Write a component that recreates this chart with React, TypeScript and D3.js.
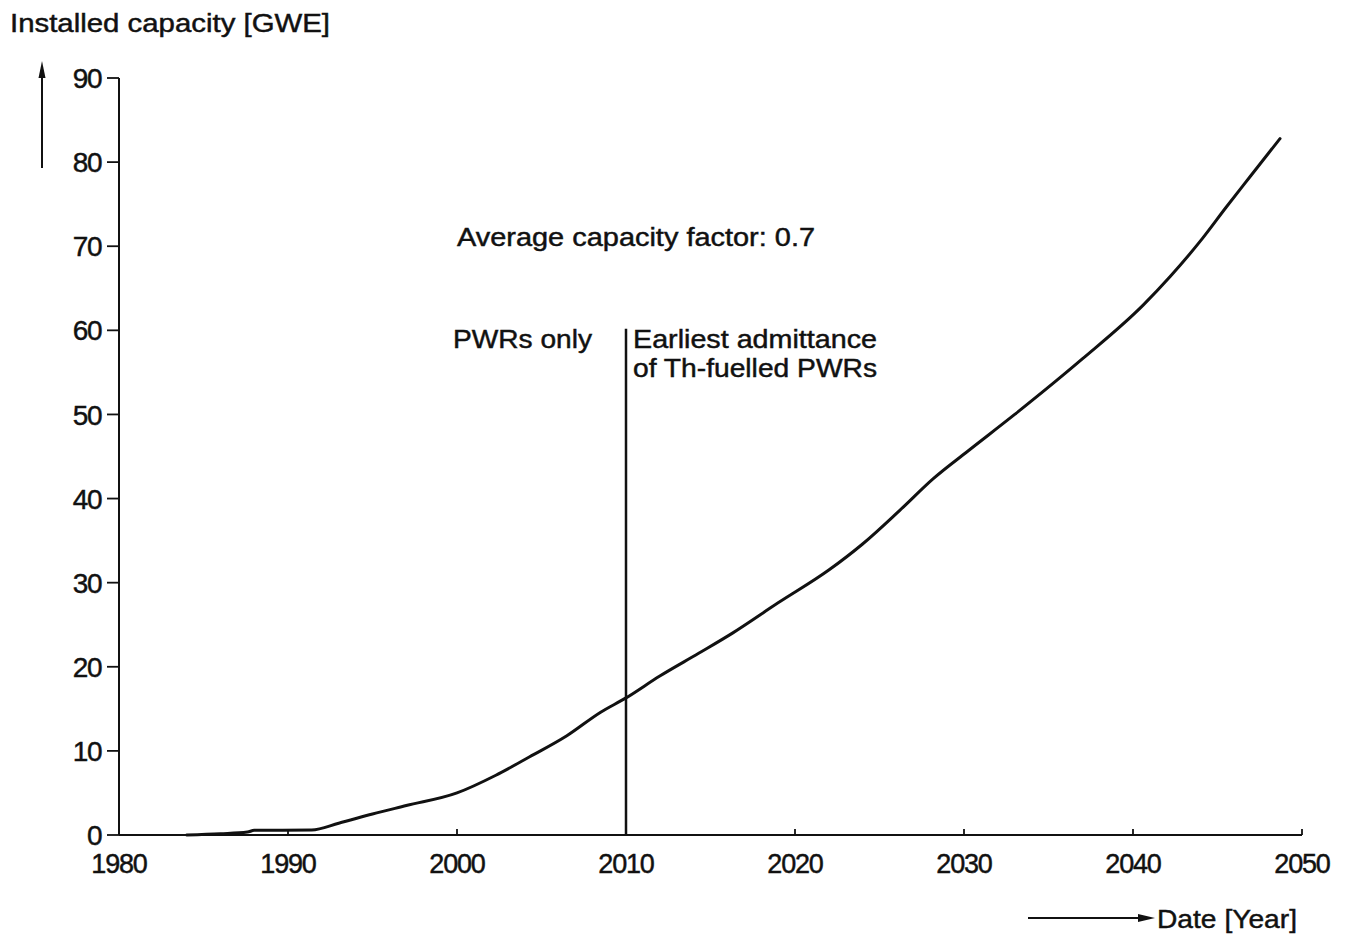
import React from "react";
import * as d3 from "d3";

const years: number[] = [1984, 1986, 1987.6, 1988, 1991.4, 1993, 1995, 1997, 2000, 2002.3, 2004.3, 2006.5, 2008.5, 2010, 2012, 2014.3, 2016.3, 2019, 2022, 2024, 2026.2, 2028.2, 2030.2, 2033, 2037, 2040.6, 2042.2, 2044.1, 2045.5, 2046.9, 2048.7];
const capacity: number[] = [0, 0.15, 0.35, 0.55, 0.6, 1.4, 2.5, 3.5, 5.0, 7.1, 9.3, 11.8, 14.6, 16.3, 18.9, 21.6, 24.0, 27.6, 31.5, 34.6, 38.6, 42.4, 45.6, 50.0, 56.6, 63.0, 66.4, 70.9, 74.6, 78.2, 82.8];
const xTicks: number[] = [1980, 1990, 2000, 2010, 2020, 2030, 2040, 2050];
const yTicks: number[] = [0, 10, 20, 30, 40, 50, 60, 70, 80, 90];
const markerYear = 2010;
const markerTop = 60.2;

const FONT = "'Liberation Sans', Arial, Helvetica, sans-serif";

export default function App() {
  const W = 1356, H = 935;
  const x = d3.scaleLinear().domain([1980, 2050]).range([119, 1302]);
  const y = d3.scaleLinear().domain([0, 90]).range([835, 78]);
  const pts = years.map((yr, i) => [yr, capacity[i]] as [number, number]);
  const line = d3.line<[number, number]>().x(d => x(d[0])).y(d => y(d[1])).curve(d3.curveMonotoneX);
  const ts = { fill: "#111", stroke: "#111", strokeWidth: 0.45 };

  return (
    <svg width={W} height={H} style={{ position: "absolute", left: 0, top: 0, background: "#fff" }} fontFamily={FONT}>
      <rect x={0} y={0} width={W} height={H} fill="#fff" />
      {/* Title */}
      <text x={10} y={32} fontSize={25} {...ts} textLength={320} lengthAdjust="spacingAndGlyphs">Installed capacity [GWE]</text>
      {/* left arrow */}
      <line x1={42} y1={168} x2={42} y2={72} stroke="#111" strokeWidth={2} />
      <path d="M38.5,78 L42,61 L45.5,78 Z" fill="#111" />

      {/* y axis */}
      <line x1={x(1980)} y1={y(90)} x2={x(1980)} y2={y(0)} stroke="#111" strokeWidth={2} />
      {yTicks.map(t => (
        <g key={"y" + t}>
          <line x1={x(1980) - 12} x2={x(1980)} y1={y(t)} y2={y(t)} stroke="#111" strokeWidth={1.8} />
          <text x={x(1980) - 18} y={y(t)} dy="0.36em" textAnchor="end" fontSize={28} {...ts} letterSpacing={-1.5}>{t}</text>
        </g>
      ))}

      {/* x axis */}
      <line x1={x(1980)} y1={y(0)} x2={x(2050)} y2={y(0)} stroke="#111" strokeWidth={2} />
      {xTicks.map(t => (
        <g key={"x" + t}>
          <line x1={x(t)} x2={x(t)} y1={y(0)} y2={y(0) - 6} stroke="#111" strokeWidth={1.8} />
          <text x={x(t)} y={873} textAnchor="middle" fontSize={27} {...ts} letterSpacing={-1.2}>{t}</text>
        </g>
      ))}

      {/* Date arrow */}
      <line x1={1028} y1={918} x2={1142} y2={918} stroke="#111" strokeWidth={2} />
      <path d="M1138,914 L1155,918 L1138,922 Z" fill="#111" />
      <text x={1157} y={928} fontSize={26} {...ts} textLength={140} lengthAdjust="spacingAndGlyphs">Date [Year]</text>

      {/* marker line */}
      <line x1={x(markerYear)} x2={x(markerYear)} y1={y(0)} y2={y(markerTop)} stroke="#111" strokeWidth={2.5} />

      {/* annotations */}
      <text x={457} y={246} fontSize={25} {...ts} textLength={358} lengthAdjust="spacingAndGlyphs">Average capacity factor: 0.7</text>
      <text x={453} y={348} fontSize={25} {...ts} textLength={139} lengthAdjust="spacingAndGlyphs">PWRs only</text>
      <text x={633} y={348} fontSize={25} {...ts} textLength={244} lengthAdjust="spacingAndGlyphs">Earliest admittance</text>
      <text x={633} y={377} fontSize={25} {...ts} textLength={244} lengthAdjust="spacingAndGlyphs">of Th-fuelled PWRs</text>

      {/* curve */}
      <path d={line(pts) || ""} fill="none" stroke="#111" strokeWidth={3} strokeLinejoin="round" strokeLinecap="round" />
    </svg>
  );
}
